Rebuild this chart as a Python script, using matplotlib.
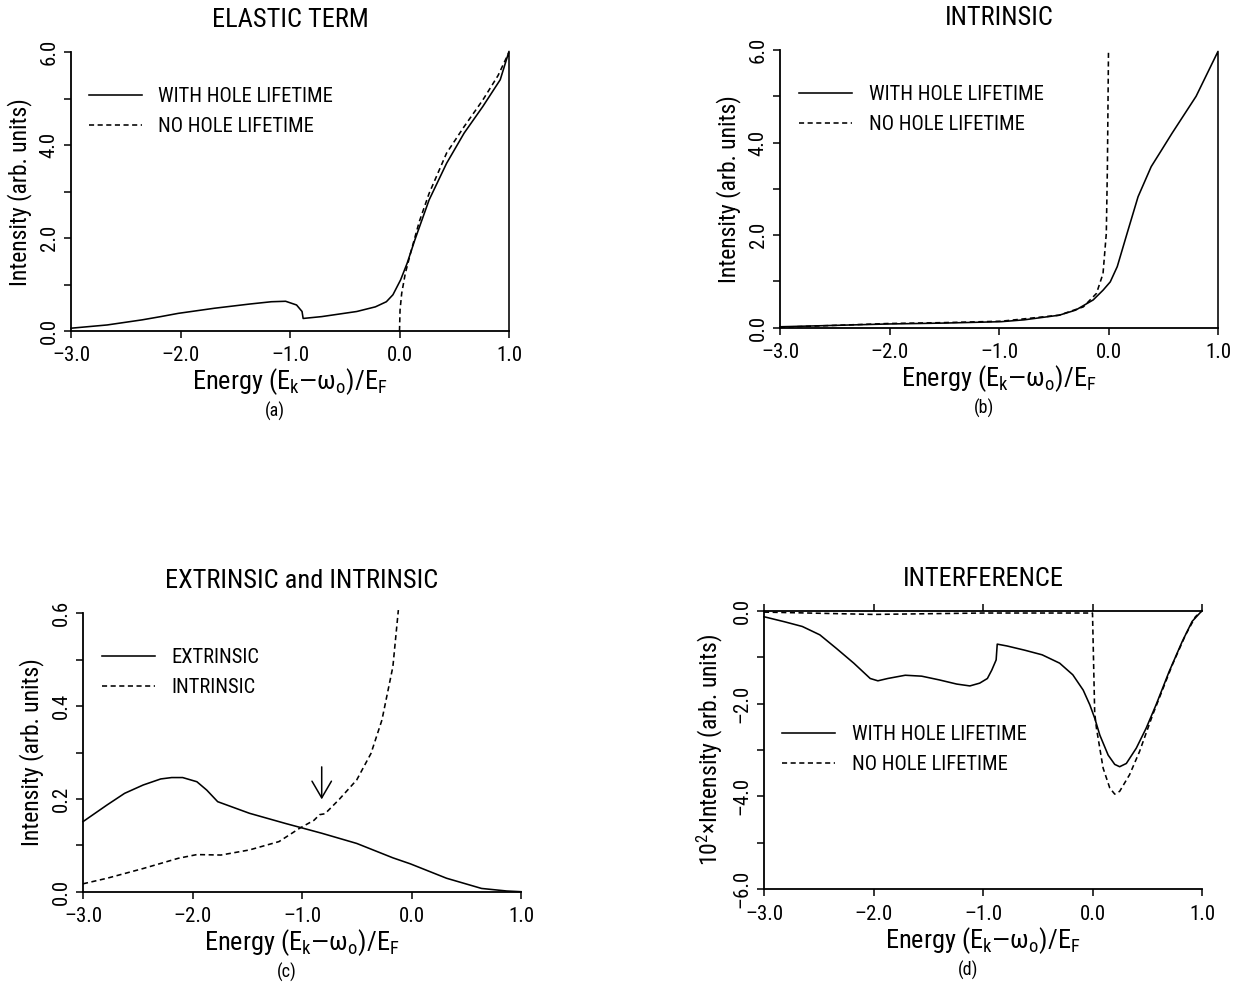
import matplotlib
matplotlib.use("Agg")
import matplotlib.pyplot as plt
from matplotlib import font_manager as fm
from matplotlib.ticker import MultipleLocator

# ---------------- data ----------------
x_ticks = [-3.0, -2.0, -1.0, 0.0, 1.0]
x_ticklabels = ["\u20133.0", "\u20132.0", "\u20131.0", "0.0", "1.0"]

# (a) elastic term
a_x_with = [-3.0, -2.67, -2.35, -2.18, -2.02, -1.69, -1.37, -1.17, -1.04, -0.94, -0.89,
            -0.88, -0.71, -0.39, -0.22, -0.12, -0.06, 0.01, 0.07, 0.14, 0.27, 0.43,
            0.59, 0.76, 0.92, 1.0, 1.0]
a_y_with = [0.06, 0.13, 0.24, 0.31, 0.38, 0.49, 0.58, 0.63, 0.64, 0.56, 0.42,
            0.27, 0.31, 0.42, 0.52, 0.63, 0.78, 1.10, 1.46, 1.96, 2.82, 3.61,
            4.26, 4.83, 5.41, 6.02, 0.0]
a_x_no = [0.0, 0.005, 0.02, 0.053, 0.10, 0.18, 0.27, 0.43, 0.59, 0.76, 0.90, 1.0]
a_y_no = [0.0, 0.45, 0.81, 1.24, 1.67, 2.35, 2.96, 3.83, 4.40, 4.97, 5.50, 6.0]
a_yticks = [0.0, 2.0, 4.0, 6.0]
a_yticklabels = ["0.0", "2.0", "4.0", "6.0"]

# (b) intrinsic
b_x_with = [-3.0, -2.5, -2.02, -1.5, -0.98, -0.77, -0.45, -0.30, -0.14, -0.05, 0.016,
            0.08, 0.17, 0.27, 0.39, 0.48, 0.58, 0.69, 0.80, 1.0, 1.0]
b_y_with = [0.02, 0.05, 0.08, 0.10, 0.13, 0.17, 0.27, 0.38, 0.60, 0.81, 0.99,
            1.32, 2.04, 2.83, 3.48, 3.82, 4.20, 4.60, 5.00, 5.97, 0.0]
b_x_no = [-3.0, -2.5, -2.02, -1.5, -0.98, -0.45, -0.23, -0.11, -0.05, -0.02, -0.01, 0.0]
b_y_no = [0.01, 0.05, 0.09, 0.11, 0.14, 0.27, 0.45, 0.74, 1.17, 2.04, 3.48, 6.0]
b_yticks = [0.0, 2.0, 4.0, 6.0]
b_yticklabels = ["0.0", "2.0", "4.0", "6.0"]

# (c) extrinsic and intrinsic
c_x_ext = [-3.0, -2.78, -2.62, -2.45, -2.29, -2.19, -2.09, -1.96, -1.87, -1.77, -1.48,
           -1.15, -0.82, -0.50, -0.17, -0.01, 0.32, 0.64, 0.87, 1.0]
c_y_ext = [0.151, 0.187, 0.212, 0.230, 0.243, 0.246, 0.246, 0.237, 0.219, 0.194, 0.169,
           0.147, 0.126, 0.104, 0.073, 0.060, 0.029, 0.007, 0.0015, 0.0]
c_x_int = [-3.0, -2.78, -2.45, -2.13, -1.96, -1.74, -1.48, -1.21, -1.02, -0.89, -0.84,
           -0.79, -0.66, -0.50, -0.37, -0.27, -0.17, -0.12]
c_y_int = [0.017, 0.029, 0.050, 0.072, 0.080, 0.079, 0.090, 0.108, 0.137, 0.154, 0.166,
           0.168, 0.199, 0.241, 0.298, 0.370, 0.485, 0.607]
c_arrow_x = -0.82
c_arrow_y = [0.269, 0.199]
c_yticks = [0.0, 0.2, 0.4, 0.6]
c_yticklabels = ["0.0", "0.2", "0.4", "0.6"]

# (d) interference
d_x_with = [-3.0, -2.81, -2.65, -2.49, -2.34, -2.18, -2.03, -1.96, -1.87, -1.71, -1.56,
            -1.40, -1.24, -1.12, -1.03, -0.96, -0.92, -0.88, -0.87, -0.78, -0.62, -0.46,
            -0.30, -0.18, -0.085, -0.024, 0.021, 0.067, 0.143, 0.203, 0.248, 0.309, 0.40,
            0.49, 0.58, 0.70, 0.82, 0.91, 1.0]
d_y_with = [-0.13, -0.24, -0.34, -0.52, -0.81, -1.13, -1.46, -1.51, -1.46, -1.39, -1.41,
            -1.49, -1.58, -1.62, -1.56, -1.46, -1.28, -1.06, -0.72, -0.76, -0.85, -0.95,
            -1.13, -1.38, -1.71, -2.03, -2.32, -2.68, -3.11, -3.31, -3.36, -3.29, -2.96,
            -2.53, -2.03, -1.31, -0.66, -0.23, 0.0]
d_x_no = [-3.0, -2.0, -1.0, 0.0, 0.02, 0.036, 0.097, 0.158, 0.203, 0.248, 0.339, 0.43,
          0.55, 0.61, 0.73, 0.85, 0.94, 1.0]
d_y_no = [-0.03, -0.08, -0.05, -0.05, -2.20, -2.53, -3.39, -3.82, -3.95, -3.89, -3.53,
          -3.03, -2.24, -1.88, -1.16, -0.52, -0.13, 0.0]
d_yticks = [-6.0, -4.0, -2.0, 0.0]
d_yticklabels = ["\u20136.0", "\u20134.0", "\u20132.0", "0.0"]

# ---------------- style ----------------
installed = {f.name for f in fm.fontManager.ttflist}
prefs = ["Roboto Condensed", "PT Sans Narrow", "Open Sans Condensed", "Liberation Sans"]
FONT = next((p for p in prefs if p in installed), "DejaVu Sans")
plt.rcParams["font.family"] = [FONT, "DejaVu Sans"]
plt.rcParams["mathtext.fontset"] = "custom"
plt.rcParams["mathtext.rm"] = FONT
plt.rcParams["mathtext.it"] = FONT + ":italic"
plt.rcParams["mathtext.bf"] = FONT + ":bold"

W, H = 1236, 986
fig = plt.figure(figsize=(W / 100, H / 100), dpi=100)
fig.patch.set_facecolor("white")


def axes_px(left, right, top, bottom):
    return fig.add_axes([left / W, 1 - bottom / H, (right - left) / W, (bottom - top) / H])


LW = 1.15
DASH = (0, (3.2, 2.2))
XLABEL = "Energy (E$_\\mathrm{k}$\u2014\u03c9$_\\mathrm{o}$)/E$_\\mathrm{F}$"


def style(ax, ylim, yticks, yticklabels, yminor, title, ylabel, panel, legend_xy):
    ax.set_xlim(-3.0, 1.0)
    ax.set_ylim(*ylim)
    for s in ["top", "right"]:
        ax.spines[s].set_visible(False)
    for s in ["left", "bottom"]:
        ax.spines[s].set_linewidth(1.3)
    ax.set_xticks(x_ticks)
    ax.set_xticklabels(x_ticklabels, fontsize=15)
    ax.set_yticks(yticks)
    ax.set_yticklabels(yticklabels, fontsize=15, rotation=90, va="center")
    ax.yaxis.set_minor_locator(MultipleLocator(yminor))
    ax.tick_params(axis="x", direction="out", length=5, width=1.1, pad=6)
    ax.tick_params(axis="y", which="both", direction="out", length=5, width=1.1, pad=4)
    ax.set_title(title, fontsize=19, pad=18)
    ax.set_xlabel(XLABEL, fontsize=19)
    ax.xaxis.set_label_coords(0.5, -0.127)
    ax.xaxis.label.set_va("top")
    ax.set_ylabel(ylabel, fontsize=17)
    ax.yaxis.set_label_coords(-0.09, 0.5)
    ax.text(0.465, -0.29, "(" + panel + ")", transform=ax.transAxes, fontsize=13,
            ha="center", va="center")
    leg = ax.legend(loc="upper left", bbox_to_anchor=legend_xy, frameon=False,
                    fontsize=14.8, handlelength=2.6, handletextpad=0.8,
                    labelspacing=0.55, borderpad=0, borderaxespad=0)
    return leg


# (a)
ax = axes_px(71, 509, 52.3, 331)
ax.plot(a_x_with, a_y_with, color="black", lw=LW, clip_on=False, label="WITH HOLE LIFETIME")
ax.plot(a_x_no, a_y_no, color="black", lw=LW, ls=DASH, clip_on=False, label="NO HOLE LIFETIME")
style(ax, (0, 6), a_yticks, a_yticklabels, 1.0, "ELASTIC TERM",
      "Intensity (arb. units)", "a", (0.04, 0.875))

# (b)
ax = axes_px(780, 1218, 50, 327.7)
ax.plot(b_x_with, b_y_with, color="black", lw=LW, clip_on=False, label="WITH HOLE LIFETIME")
ax.plot(b_x_no, b_y_no, color="black", lw=LW, ls=DASH, clip_on=False, label="NO HOLE LIFETIME")
style(ax, (0, 6), b_yticks, b_yticklabels, 1.0, "INTRINSIC",
      "Intensity (arb. units)", "b", (0.043, 0.875))

# (c)
ax = axes_px(83, 521, 613.3, 891.7)
ax.plot(c_x_ext, c_y_ext, color="black", lw=LW, clip_on=False, label="EXTRINSIC")
ax.plot(c_x_int, c_y_int, color="black", lw=LW, ls=DASH, clip_on=False, label="INTRINSIC")
ax.annotate("", xy=(c_arrow_x, c_arrow_y[1]), xytext=(c_arrow_x, c_arrow_y[0]),
            arrowprops=dict(arrowstyle="->,head_length=0.6,head_width=0.35", lw=1.1,
                            color="black", mutation_scale=20, shrinkA=0, shrinkB=0))
style(ax, (0, 0.6), c_yticks, c_yticklabels, 0.1, "EXTRINSIC and INTRINSIC",
      "Intensity (arb. units)", "c", (0.043, 0.875))

# (d)
ax = axes_px(764, 1202, 610.7, 889.3)
ax.plot(d_x_with, d_y_with, color="black", lw=LW, clip_on=False, label="WITH HOLE LIFETIME")
ax.plot(d_x_no, d_y_no, color="black", lw=LW, ls=DASH, clip_on=False, label="NO HOLE LIFETIME")
style(ax, (-6, 0), d_yticks, d_yticklabels, 1.0, "INTERFERENCE",
      "10$^\\mathrm{2}$\u00d7Intensity (arb. units)", "d", (0.041, 0.59))
ax.spines["top"].set_visible(True)
ax.spines["top"].set_linewidth(1.3)
ax.tick_params(axis="x", top=True, labeltop=False)

fig.savefig("out.png", dpi=100, facecolor="white")
